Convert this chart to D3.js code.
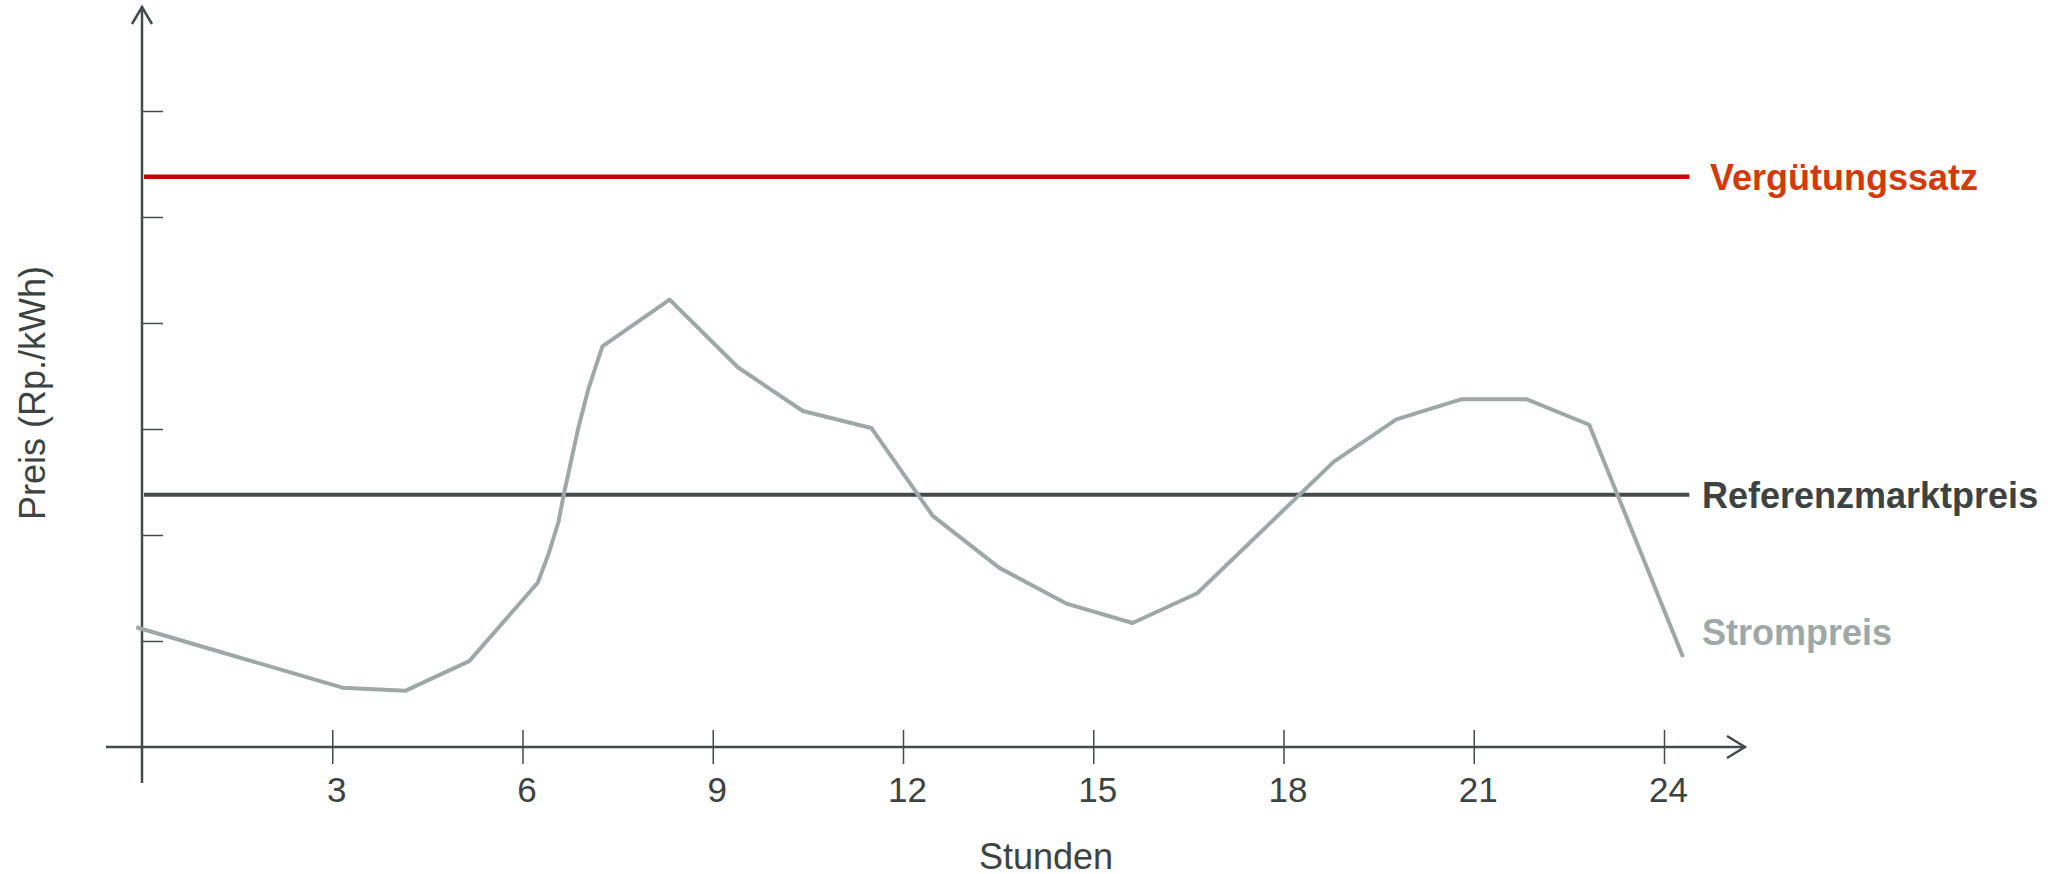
<!DOCTYPE html>
<html>
<head>
<meta charset="utf-8">
<script src="https://cdn.jsdelivr.net/npm/d3@7"></script>
<style>
  html, body { margin: 0; padding: 0; background: #fff; }
  svg { display: block; }
</style>
</head>
<body>
<svg id="chart"></svg>
<script>
// Strompreis over the day (hours, price units)
const hours  = [-0.09, 3.16, 4.15, 5.16, 6.24, 6.41, 6.57, 6.65, 6.88, 7.04, 7.26, 8.32, 9.4, 10.42, 11.5, 12.47, 13.52, 14.59, 15.62, 16.64, 18.79, 19.78, 20.8, 21.84, 22.82, 24.3];
const prices = [1.13, 0.56, 0.53, 0.81, 1.55, 1.82, 2.13, 2.38, 3.01, 3.38, 3.78, 4.22, 3.58, 3.17, 3.01, 2.18, 1.69, 1.35, 1.17, 1.45, 2.69, 3.09, 3.28, 3.28, 3.04, 0.85];
const verguetung = 5.38;
const referenz = 2.38;
const xTicks = [3, 6, 9, 12, 15, 18, 21, 24];
const yTicks = [1, 2, 3, 4, 5, 6];
const refSpan = [0, 24.4];

const W = 2062, H = 874;
const axisColor = "#454a4a";
const font = "Liberation Sans, Arial, sans-serif";

const svg = d3.select("#chart").attr("width", W).attr("height", H);

const x = d3.scaleLinear().domain([0, 24]).range([142, 1664]);
const y = d3.scaleLinear().domain([0, 6]).range([747, 111]);

// x axis ticks (crossing the axis line)
const gx = svg.append("g").attr("transform", `translate(0,${y(0)})`)
  .call(d3.axisBottom(x).tickValues(xTicks).tickSize(17));
gx.select(".domain").remove();
gx.selectAll(".tick line").attr("y1", -17).attr("stroke", axisColor).attr("stroke-width", 1.5);
gx.selectAll(".tick text")
  .attr("font-family", font).attr("font-size", 35).attr("fill", "#3d4242")
  .attr("y", 55).attr("dy", 0).attr("dx", 4);

// y axis ticks, no labels
const gy = svg.append("g").attr("transform", `translate(${x(0)},0)`)
  .call(d3.axisLeft(y).tickValues(yTicks).tickSize(17).tickFormat(""));
gy.select(".domain").remove();
gy.selectAll(".tick line").attr("x2", 21).attr("stroke", axisColor).attr("stroke-width", 1.5);

// axis lines with open arrow heads
svg.append("line").attr("x1", 106).attr("x2", 1745).attr("y1", y(0)).attr("y2", y(0))
  .attr("stroke", axisColor).attr("stroke-width", 2.5);
svg.append("path").attr("d", `M1727,${y(0) - 11} L1745,${y(0)} L1727,${y(0) + 11}`)
  .attr("fill", "none").attr("stroke", axisColor).attr("stroke-width", 2.5);
svg.append("line").attr("x1", x(0)).attr("x2", x(0)).attr("y1", 783).attr("y2", 7)
  .attr("stroke", axisColor).attr("stroke-width", 2.5);
svg.append("path").attr("d", `M${x(0) - 10},24 L${x(0)},7 L${x(0) + 10},24`)
  .attr("fill", "none").attr("stroke", axisColor).attr("stroke-width", 2.5);

// reference lines
svg.append("line")
  .attr("x1", x(refSpan[0]) + 2).attr("x2", x(refSpan[1]))
  .attr("y1", y(verguetung)).attr("y2", y(verguetung))
  .attr("stroke", "#c80000").attr("stroke-width", 4.5);
svg.append("line")
  .attr("x1", x(refSpan[0]) + 2).attr("x2", x(refSpan[1]))
  .attr("y1", y(referenz)).attr("y2", y(referenz))
  .attr("stroke", "#454a4a").attr("stroke-width", 4);

// price curve
const line = d3.line().x((d, i) => x(hours[i])).y(d => y(d));
svg.append("path").datum(prices)
  .attr("d", line)
  .attr("fill", "none").attr("stroke", "#a0a8a7").attr("stroke-width", 4)
  .attr("stroke-linejoin", "round");

// labels
svg.append("text").attr("x", 1710).attr("y", y(verguetung) + 13)
  .attr("font-family", font).attr("font-weight", "bold").attr("font-size", 36)
  .attr("fill", "#d23a0c").text("Vergütungssatz");
svg.append("text").attr("x", 1702).attr("y", y(referenz) + 13)
  .attr("font-family", font).attr("font-weight", "bold").attr("font-size", 36)
  .attr("fill", "#3d4242").text("Referenzmarktpreis");
svg.append("text").attr("x", 1702).attr("y", 645)
  .attr("font-family", font).attr("font-weight", "bold").attr("font-size", 36)
  .attr("fill", "#a0a8a7").text("Strompreis");

svg.append("text").attr("x", 1046).attr("y", 869).attr("text-anchor", "middle")
  .attr("font-family", font).attr("font-size", 36).attr("fill", "#3d4242")
  .text("Stunden");
svg.append("text").attr("transform", "translate(45,393) rotate(-90)")
  .attr("text-anchor", "middle")
  .attr("font-family", font).attr("font-size", 36).attr("fill", "#3d4242")
  .text("Preis (Rp./kWh)");
</script>
</body>
</html>
